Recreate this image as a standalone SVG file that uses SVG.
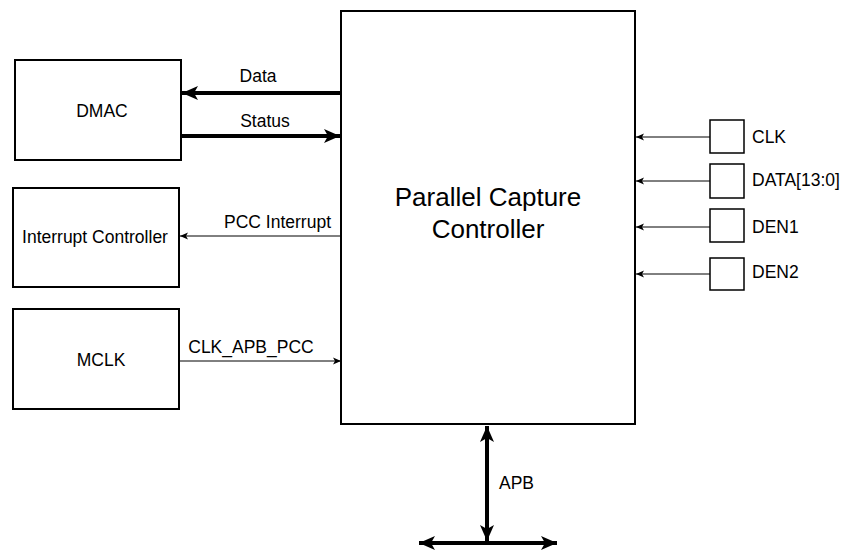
<svg xmlns="http://www.w3.org/2000/svg" width="843" height="553" viewBox="0 0 843 553">
<style>
.box{fill:#fff;stroke:#000;stroke-width:2}
.port{fill:#fff;stroke:#000;stroke-width:1.5}
.t{font-family:"Liberation Sans",Arial,sans-serif;font-size:17.5px;fill:#000}
.title{font-family:"Liberation Sans",Arial,sans-serif;font-size:26px;fill:#000}
.thick{stroke:#000;stroke-width:4;fill:none}
.thin{stroke:#000;stroke-width:1;fill:none}
</style>
<defs>
<marker id="ah" markerUnits="userSpaceOnUse" markerWidth="18" markerHeight="16" refX="16" refY="8" orient="auto-start-reverse" viewBox="0 0 18 16">
<path d="M0,1 L16,8 L0,15 L4,8 z" fill="#000"/>
</marker>
<marker id="at" markerUnits="userSpaceOnUse" markerWidth="9" markerHeight="8" refX="8" refY="4" orient="auto" viewBox="0 0 9 8">
<path d="M0,0.5 L8,4 L0,7.5 L2,4 z" fill="#000"/>
</marker>
</defs>
<g id="pcc"><rect class="box" x="341" y="11" width="294" height="413"/>
<text class="title" x="488" y="206" text-anchor="middle">Parallel Capture</text>
<text class="title" x="488" y="238" text-anchor="middle">Controller</text></g>
<g id="dmac"><rect class="box" x="15" y="60" width="166" height="100"/><text class="t" x="102" y="117" text-anchor="middle">DMAC</text></g>
<g id="intc"><rect class="box" x="13" y="188" width="166" height="99"/><text class="t" x="95" y="243" text-anchor="middle">Interrupt Controller</text></g>
<g id="mclk"><rect class="box" x="13" y="309" width="166" height="100"/><text class="t" x="101" y="366" text-anchor="middle">MCLK</text></g>
<g id="clk"><rect class="port" x="710" y="120" width="34" height="33"/><text class="t" x="752" y="143">CLK</text></g>
<g id="data"><rect class="port" x="710" y="164" width="34" height="34"/><text class="t" x="752" y="186">DATA[13:0]</text></g>
<g id="den1"><rect class="port" x="710" y="209" width="34" height="33"/><text class="t" x="752" y="233">DEN1</text></g>
<g id="den2"><rect class="port" x="710" y="258" width="34" height="32"/><text class="t" x="752" y="278">DEN2</text></g>
<g id="connectors">
<line class="thick" x1="341" y1="93" x2="182" y2="93" marker-end="url(#ah)"/>
<text class="t" x="258" y="82" text-anchor="middle">Data</text>
<line class="thick" x1="181" y1="136" x2="340" y2="136" marker-end="url(#ah)"/>
<text class="t" x="265" y="127" text-anchor="middle">Status</text>
<line class="thin" x1="341" y1="236" x2="180" y2="236" marker-end="url(#at)"/>
<text class="t" x="331" y="228" text-anchor="end">PCC Interrupt</text>
<line class="thin" x1="179" y1="361" x2="341" y2="361" marker-end="url(#at)"/>
<text class="t" x="251" y="353" text-anchor="middle">CLK_APB_PCC</text>
<line class="thin" x1="710" y1="137" x2="636" y2="137" marker-end="url(#at)"/>
<line class="thin" x1="710" y1="181" x2="636" y2="181" marker-end="url(#at)"/>
<line class="thin" x1="710" y1="227" x2="636" y2="227" marker-end="url(#at)"/>
<line class="thin" x1="710" y1="274" x2="636" y2="274" marker-end="url(#at)"/>
<line class="thick" x1="487" y1="426" x2="487" y2="541" marker-start="url(#ah)" marker-end="url(#ah)"/>
<line class="thick" x1="419" y1="543" x2="557" y2="543" marker-start="url(#ah)" marker-end="url(#ah)"/>
<text class="t" x="499" y="489">APB</text>
</g>
</svg>
